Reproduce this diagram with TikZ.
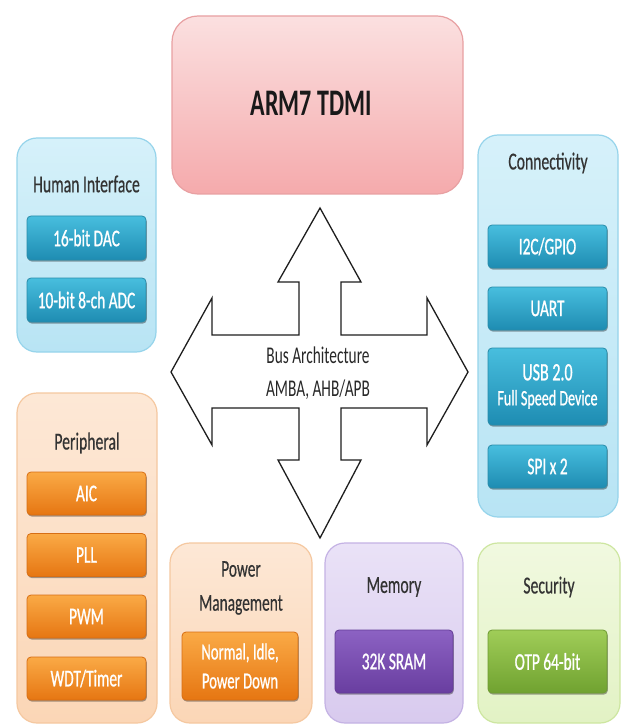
\documentclass[tikz,border=0pt]{standalone}
\usepackage{fontspec}
\setmainfont[FakeStretch=0.64]{Carlito}
\newfontfamily\innerfont[FakeStretch=0.64,FakeBold=0.8]{Carlito}
\newfontfamily\titlefont[FakeStretch=0.64,FakeBold=0.4]{Carlito}
\usetikzlibrary{shadows}
\definecolor{tcol}{HTML}{333333}
\begin{document}
\begin{tikzpicture}[x=1pt,y=-1pt,
  outer/.style={rectangle,rounded corners=20pt,line width=1.2pt,inner sep=0pt},
  obl/.style={outer,top color={rgb,255:red,214;green,241;blue,250},bottom color={rgb,255:red,184;green,228;blue,244},draw={rgb,255:red,150;green,212;blue,235}},
  oor/.style={outer,top color={rgb,255:red,253;green,232;blue,214},bottom color={rgb,255:red,251;green,214;blue,182},draw={rgb,255:red,245;green,200;blue,160}},
  opu/.style={outer,top color={rgb,255:red,234;green,226;blue,247},bottom color={rgb,255:red,216;green,202;blue,238},draw={rgb,255:red,196;green,178;blue,228}},
  ogr/.style={outer,top color={rgb,255:red,241;green,249;blue,224},bottom color={rgb,255:red,226;green,242;blue,196},draw={rgb,255:red,205;green,230;blue,160}},
  inner/.style={rectangle,rounded corners=4pt,line width=0.8pt,text=white,font=\innerfont\fontsize{24}{26}\selectfont,align=center,
     drop shadow={shadow xshift=0.8pt,shadow yshift=-1.6pt,fill=black,opacity=0.35},inner sep=0pt},
  ibl/.style={inner,top color={rgb,255:red,72;green,190;blue,222},bottom color={rgb,255:red,30;green,140;blue,178},draw={rgb,255:red,40;green,140;blue,170}},
  ior/.style={inner,top color={rgb,255:red,250;green,170;blue,70},bottom color={rgb,255:red,230;green,118;blue,18},draw={rgb,255:red,215;green,110;blue,20}},
  ipu/.style={inner,top color={rgb,255:red,140;green,98;blue,195},bottom color={rgb,255:red,105;green,62;blue,160},draw={rgb,255:red,100;green,60;blue,150}},
  igr/.style={inner,top color={rgb,255:red,160;green,205;blue,88},bottom color={rgb,255:red,112;green,162;blue,48},draw={rgb,255:red,110;green,155;blue,50}},
  title/.style={text=tcol,font=\titlefont\fontsize{24.5}{27}\selectfont,align=center,inner sep=0pt}
]
\useasboundingbox[fill=white] (0,0) rectangle (621,727);

% ARM7
\node[outer,rounded corners=26pt,top color={rgb,255:red,251;green,224;blue,224},bottom color={rgb,255:red,245;green,170;blue,172},draw={rgb,255:red,232;green,160;blue,162},minimum width=291pt,minimum height=178pt] (arm) at (317.5,105) {};
\node[font=\bfseries\fontsize{37.5}{39}\selectfont,text={rgb,255:red,25;green,25;blue,25}] (armt) at (311,103) {ARM7 TDMI};

% Human interface
\node[obl,minimum width=139pt,minimum height=214pt] (hi) at (86.5,245) {};
\node[title] (hit) at (86.5,184) {Human Interface};
\node[ibl,minimum width=119pt,minimum height=44pt] (dac) at (86.5,238) {16-bit DAC};
\node[ibl,minimum width=119pt,minimum height=44pt] (adc) at (86.5,300) {10-bit 8-ch ADC};

% Connectivity
\node[obl,minimum width=140pt,minimum height=382pt] (con) at (548,326) {};
\node[title] (cont) at (548,163) {Connectivity};
\node[ibl,minimum width=119pt,minimum height=43pt] (i2c) at (547.5,246.5) {I2C/GPIO};
\node[ibl,minimum width=119pt,minimum height=43pt] (uart) at (547.5,308.5) {UART};
\node[ibl,minimum width=119pt,minimum height=77pt] (usb) at (547.5,386.5) {\fontsize{25}{27}\selectfont USB 2.0\\[-1pt]{\fontsize{22}{24}\selectfont Full Speed Device}};
\node[ibl,minimum width=119pt,minimum height=43pt] (spi) at (547.5,466.5) {SPI x 2};

% Peripheral
\node[oor,minimum width=140pt,minimum height=330pt] (per) at (87,558) {};
\node[title] (pert) at (87,443) {Peripheral};
\node[ior,minimum width=119pt,minimum height=43pt] (aic) at (86.5,493.5) {AIC};
\node[ior,minimum width=119pt,minimum height=43pt] (pll) at (86.5,555) {PLL};
\node[ior,minimum width=119pt,minimum height=43pt] (pwm) at (86.5,616.5) {PWM};
\node[ior,minimum width=119pt,minimum height=43pt] (wdt) at (86.5,678.5) {WDT/Timer};

% Power management
\node[oor,minimum width=142pt,minimum height=180pt] (pm) at (241,633) {};
\node[title,font=\titlefont\fontsize{24}{34}\selectfont] (pmt) at (241,588) {Power\\Management};
\node[ior,minimum width=116pt,minimum height=68pt,font=\innerfont\fontsize{23}{29}\selectfont] (pmi) at (240,666) {Normal, Idle,\\Power Down};

% Memory
\node[opu,minimum width=138pt,minimum height=180pt] (mem) at (394,633) {};
\node[title] (memt) at (394,587) {Memory};
\node[ipu,minimum width=118pt,minimum height=63pt] (sram) at (394,661.5) {32K SRAM};

% Security
\node[ogr,minimum width=142pt,minimum height=180pt] (sec) at (549,633) {};
\node[title] (sect) at (549,587) {Security};
\node[igr,minimum width=119pt,minimum height=63pt] (otp) at (547.5,661.5) {OTP 64-bit};

% Bus cross arrow
\draw[line width=1.3pt,line join=miter,fill=white,draw={rgb,255:red,30;green,30;blue,30}]
  (320,208) -- (361,282) -- (341,282) -- (341,335) -- (427,335) -- (427,298) -- (468,372)
  -- (427,445) -- (427,408) -- (341,408) -- (341,460) -- (361,460) -- (320,538)
  -- (278,460) -- (299,460) -- (299,408) -- (212,408) -- (212,445) -- (171,372)
  -- (212,298) -- (212,335) -- (299,335) -- (299,282) -- (278,282) -- cycle;
\node[text={rgb,255:red,40;green,40;blue,40},font=\fontsize{24}{33}\selectfont,align=center] (bus) at (318,373) {Bus Architecture\\AMBA, AHB/APB};
\end{tikzpicture}
\end{document}
